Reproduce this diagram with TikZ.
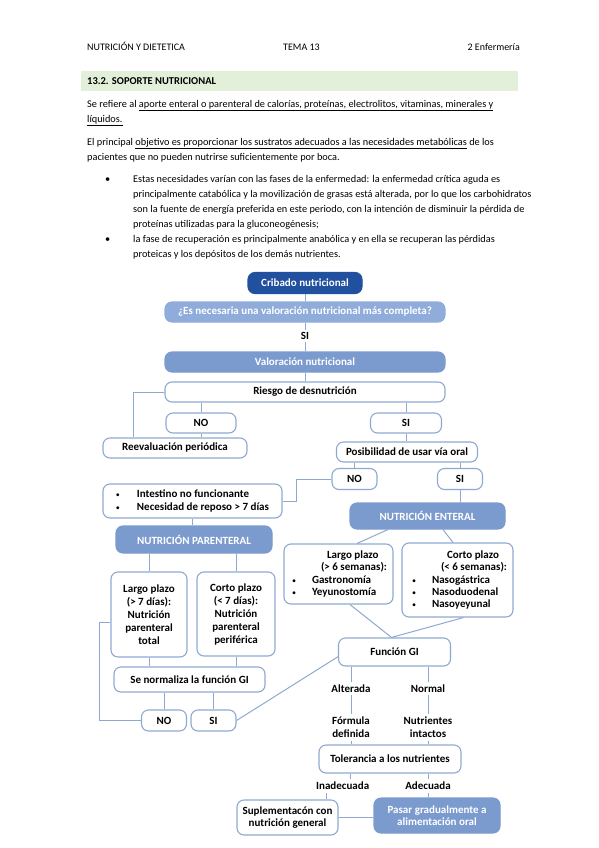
\documentclass[tikz,border=0pt]{standalone}
\usepackage{fontspec}
\setmainfont{Carlito}
\usetikzlibrary{calc,positioning}
\definecolor{lineaazul}{HTML}{8EA9D1}
\definecolor{azuloscuro}{HTML}{21509E}
\definecolor{azulclaro}{HTML}{8FACDB}
\definecolor{azulmedio}{HTML}{7B9BCF}
\definecolor{verdeclaro}{HTML}{E2EFD9}
\newcommand{\bolita}[2]{\makebox[#2][l]{\hspace*{#1}{\mdseries\fontsize{8}{8}\selectfont\textbullet}}}

\begin{document}
\begin{tikzpicture}[
  x=1pt, y=-1pt,
  txt/.style={anchor=base west, inner sep=0pt, font=\fontsize{10.3}{12}\selectfont},
  caja/.style={draw=lineaazul, line width=1.1pt, rounded corners=7pt, fill=white, align=center, inner sep=0pt, font=\fontsize{11}{12.4}\selectfont\bfseries},
  cajaazul/.style={caja, fill=azulmedio, draw=azulmedio, text=white},
  etiq/.style={inner sep=2.5pt, align=center, font=\fontsize{11}{13.3}\selectfont\bfseries},
  con/.style={draw=lineaazul, line width=1pt}
]
\fill[white] (0,0) rectangle (599,848);
\useasboundingbox (0,0) rectangle (599,848);

% cabecera y texto
\node[txt, font=\fontsize{10}{12}\selectfont] (cabIzq) at (87,50.5) {NUTRICIÓN Y DIETETICA};
\node[txt, font=\fontsize{10}{12}\selectfont] (cabMed) at (283,50.5) {TEMA 13};
\node[txt, font=\fontsize{10}{12}\selectfont, anchor=base east] (cabDer) at (520,50.5) {2 Enfermería};
\fill[verdeclaro] (81,71) rectangle (518,91);
\node[txt, font=\fontsize{10.5}{12}\selectfont\bfseries] (seccion) at (87,84.5) {13.2. SOPORTE NUTRICIONAL};
\node[txt] (p1a) at (87,107.5) {Se refiere al \underline{aporte enteral o parenteral de calorías, proteínas, electrolitos, vitaminas, minerales y}};
\node[txt] (p1b) at (87,122.5) {\underline{líquidos.}};
\node[txt] (p2a) at (87,145) {El principal \underline{objetivo es proporcionar los sustratos adecuados a las necesidades metabólicas} de los};
\node[txt] (p2b) at (87,160.5) {pacientes que no pueden nutrirse suficientemente por boca.};
\node[txt] (vin1) at (105,182) {\textbullet};
\node[txt] (b1a) at (133,182) {Estas necesidades varían con las fases de la enfermedad: la enfermedad crítica aguda es};
\node[txt] (b1b) at (133,197) {principalmente catabólica y la movilización de grasas está alterada, por lo que los carbohidratos};
\node[txt] (b1c) at (133,212) {son la fuente de energía preferida en este periodo, con la intención de disminuir la pérdida de};
\node[txt] (b1d) at (133,227) {proteínas utilizadas para la gluconeogénesis;};
\node[txt] (vin2) at (105,242) {\textbullet};
\node[txt] (b2a) at (133,242) {la fase de recuperación es principalmente anabólica y en ella se recuperan las pérdidas};
\node[txt] (b2b) at (133,257) {proteicas y los depósitos de los demás nutrientes.};

% diagrama
\node[caja, fill=azuloscuro, draw=azuloscuro, text=white, minimum width=114, minimum height=21] (cribado) at (305,283) {Cribado nutricional};
\node[cajaazul, fill=azulclaro, draw=azulclaro, minimum width=280, minimum height=20] (pregunta) at (305,312) {¿Es necesaria una valoración nutricional más completa?};
\node[etiq] (siVal) at (305,336) {SI};
\node[cajaazul, minimum width=280, minimum height=20] (valoracion) at (305,362) {Valoración nutricional};
\node[caja, minimum width=280, minimum height=20] (riesgo) at (305,392) {Riesgo de desnutrición};
\node[caja, minimum width=70, minimum height=20] (noRiesgo) at (201,423) {NO};
\node[caja, minimum width=71, minimum height=20] (siRiesgo) at (406,423) {SI};
\node[caja, minimum width=144, minimum height=20] (reeval) at (175,448) {Reevaluación periódica};
\node[caja, minimum width=141, minimum height=20] (viaOral) at (407,452) {Posibilidad de usar vía oral};
\node[caja, minimum width=45, minimum height=21] (noOral) at (354.5,479) {NO};
\node[caja, minimum width=45, minimum height=21] (siOral) at (460,479) {SI};
\node[caja, minimum width=179, minimum height=34, align=left] (intestino) at (192.5,501)
  {\bolita{0pt}{21pt}Intestino no funcionante\\\bolita{0pt}{21pt}Necesidad de reposo > 7 días};
\node[cajaazul, minimum width=156, minimum height=27] (parenteral) at (194,539.5) {NUTRICIÓN PARENTERAL};
\node[cajaazul, minimum width=155, minimum height=26] (enteral) at (427.5,516) {NUTRICIÓN ENTERAL};
\node[caja, minimum width=76, minimum height=85, font=\fontsize{11}{13}\selectfont\bfseries] (largoPar) at (149,614.5)
  {Largo plazo\\(> 7 días):\\Nutrición\\parenteral\\total};
\node[caja, minimum width=78, minimum height=84, font=\fontsize{11}{13}\selectfont\bfseries] (cortoPar) at (236,614)
  {Corto plazo\\(< 7 días):\\Nutrición\\parenteral\\periférica};
\node[caja, minimum width=109, minimum height=60, align=left] (largoEnt) at (338.5,574)
  {\hspace*{37pt}Largo plazo\\\hspace*{31pt}(> 6 semanas):\\\bolita{2pt}{22pt}Gastronomía\\\bolita{2pt}{22pt}Yeyunostomía};
\node[caja, minimum width=111, minimum height=74, align=left] (cortoEnt) at (457.5,580)
  {\hspace*{39pt}Corto plazo\\\hspace*{33pt}(< 6 semanas):\\\bolita{4pt}{24pt}Nasogástrica\\\bolita{4pt}{24pt}Nasoduodenal\\\bolita{4pt}{24pt}Nasoyeyunal};
\node[caja, minimum width=112, minimum height=28] (funcionGI) at (394.5,652) {Función GI};
\node[caja, minimum width=151, minimum height=25] (normaliza) at (189.5,679.5) {Se normaliza la función GI};
\node[caja, minimum width=45, minimum height=21] (noGI) at (164,720.5) {NO};
\node[caja, minimum width=45, minimum height=21] (siGI) at (213.5,720.5) {SI};
\node[etiq] (alterada) at (351,688.5) {Alterada};
\node[etiq] (normal) at (428,688.5) {Normal};
\node[etiq] (formula) at (351,727.5) {Fórmula\\definida};
\node[etiq] (intactos) at (428,727.5) {Nutrientes\\intactos};
\node[caja, minimum width=142, minimum height=28] (tolerancia) at (390,759) {Tolerancia a los nutrientes};
\node[etiq] (inadecuada) at (342.7,786) {Inadecuada};
\node[etiq] (adecuada) at (428,786) {Adecuada};
\node[caja, minimum width=101, minimum height=35] (suplem) at (287.5,817.5) {Suplementacón con\\nutrición general};
\node[cajaazul, minimum width=126, minimum height=35] (pasar) at (437,815.5) {Pasar gradualmente a\\alimentación oral};

% conectores
\draw[con] (cribado.south) -- (pregunta.north);
\draw[con] (pregunta.south) -- (siVal.north);
\draw[con] (siVal.south) -- (valoracion.north);
\draw[con] (valoracion.south) -- (riesgo.north);
\draw[con] (riesgo.west) -| ([xshift=-42pt]reeval.north);
\draw[con] (noRiesgo.north) -- (noRiesgo.north |- riesgo.south);
\draw[con] (noRiesgo.south) -- (noRiesgo.south |- reeval.north);
\draw[con] (siRiesgo.north) -- (siRiesgo.north |- riesgo.south);
\draw[con] (siRiesgo.south) -- (siRiesgo.south |- viaOral.north);
\draw[con] (noOral.north) -- (noOral.north |- viaOral.south);
\draw[con] (siOral.north) -- (siOral.north |- viaOral.south);
\draw[con] (noOral.west) -- ++(-35,0) |- (intestino.east);
\draw[con] (siOral.south) -- (siOral.south |- enteral.north);
\draw[con] (intestino.south) -- (intestino.south |- parenteral.north);
\draw[con] (largoPar.north) -- (largoPar.north |- parenteral.south);
\draw[con] (cortoPar.north) -- (cortoPar.north |- parenteral.south);
\draw[con] ([xshift=-39.5pt]enteral.south) -- ([xshift=18.5pt]largoEnt.north);
\draw[con] ([xshift=15.5pt]enteral.south) -- ([xshift=-4.5pt]cortoEnt.north);
\draw[con] ([xshift=11.5pt]largoEnt.south) -- ([xshift=-3pt]funcionGI.north);
\draw[con] ([xshift=6pt]cortoEnt.south) -- ([xshift=-3pt]funcionGI.north);
\draw[con] (largoPar.south) -- (largoPar.south |- normaliza.north);
\draw[con] (cortoPar.south) -- (cortoPar.south |- normaliza.north);
\draw[con] (noGI.north) -- (noGI.north |- normaliza.south);
\draw[con] (siGI.north) -- (siGI.north |- normaliza.south);
\draw[con] ([yshift=-8pt]largoPar.west) -- ++(-11,0) |- (noGI.west);
\draw[con] ([yshift=-4.7pt]funcionGI.west) -- (siGI.east);
\draw[con] (alterada.north) -- (alterada.north |- funcionGI.south);
\draw[con] (alterada.south) -- (formula.north);
\draw[con] (formula.south) -- (formula.south |- tolerancia.north);
\draw[con] (normal.north) -- (normal.north |- funcionGI.south);
\draw[con] (normal.south) -- (intactos.north);
\draw[con] (intactos.south) -- (intactos.south |- tolerancia.north);
\draw[con] ([xshift=7.3pt]inadecuada.north) -- ([xshift=7.3pt]inadecuada.north |- tolerancia.south);
\draw[con] ([xshift=-16pt]inadecuada.south) -- ([xshift=-16pt]inadecuada.south |- suplem.north);
\draw[con] (adecuada.north) -- (adecuada.north |- tolerancia.south);
\draw[con] (adecuada.south) -- (adecuada.south |- pasar.north);
\draw[con] (suplem.east) -- (suplem.east -| pasar.west);
\end{tikzpicture}
\end{document}
